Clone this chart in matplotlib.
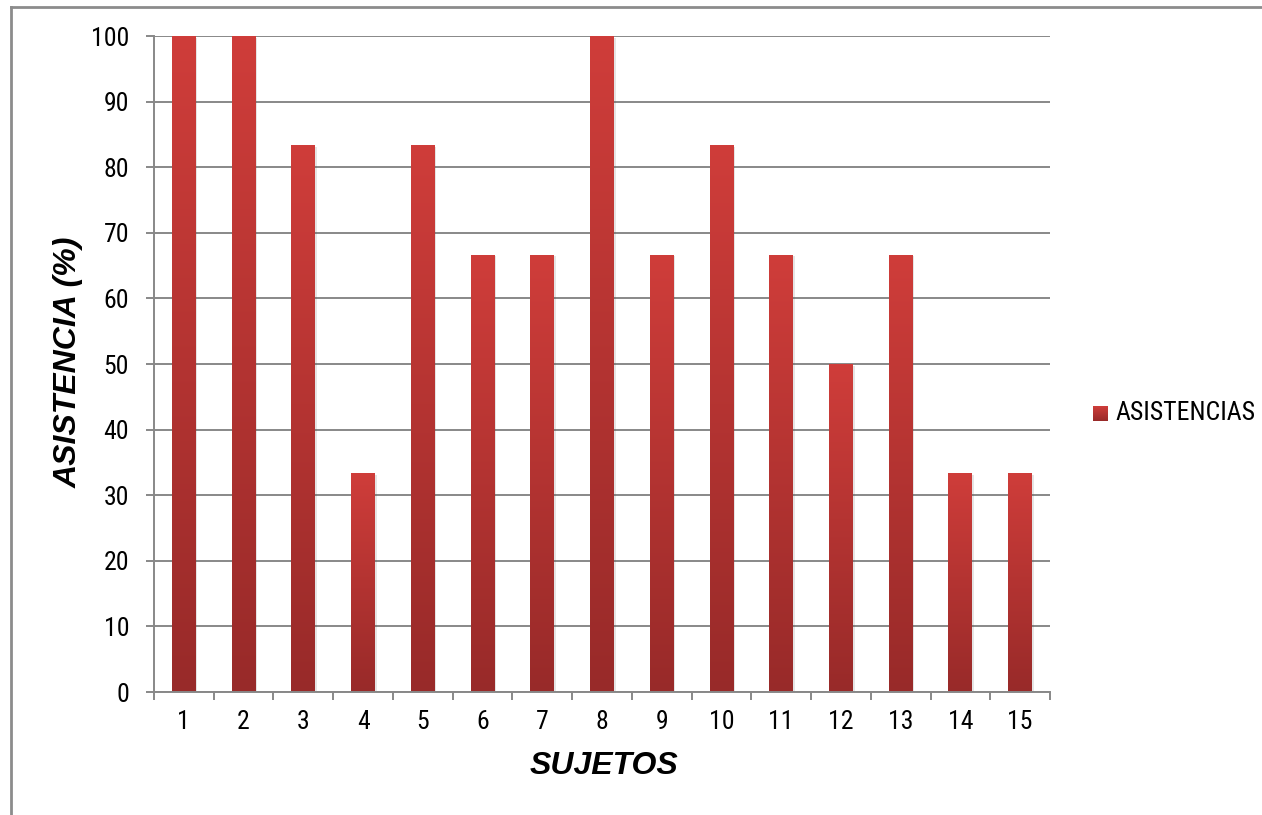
import matplotlib
matplotlib.use("Agg")
import matplotlib.pyplot as plt
import matplotlib.patheffects as pe
from matplotlib.colors import LinearSegmentedColormap
import numpy as np

# Data
sujetos = [str(i) for i in range(1, 16)]
asistencia = [100, 100, 83.33, 33.33, 83.33, 66.67, 66.67, 100,
              66.67, 83.33, 66.67, 50, 66.67, 33.33, 33.33]
y_ticks = [0, 10, 20, 30, 40, 50, 60, 70, 80, 90, 100]
serie = "ASISTENCIAS"

# narrow sans for ticks and legend, first installed one wins
narrow = ["Liberation Sans Narrow", "Arial Narrow", "Roboto Condensed",
          "Archivo Narrow", "Sofia Sans Semi Condensed", "Liberation Sans"]
title_font = ["Liberation Sans", "DejaVu Sans"]

top_col = "#CF3D3A"
bot_col = "#982A29"
grad = LinearSegmentedColormap.from_list("bar", [bot_col, top_col])
grid_col = "#888888"

W, H = 1262, 815
fig = plt.figure(figsize=(W / 100, H / 100), dpi=100)
ax = fig.add_axes([154 / W, 1 - 692 / H, (1050 - 154) / W, (692 - 36) / H])

x = np.arange(1, len(sujetos) + 1)
bars = ax.bar(x, asistencia, width=0.4, color=top_col, zorder=3,
              path_effects=[pe.SimplePatchShadow(offset=(1.2, -1.2), alpha=0.15,
                                                 shadow_rgbFace="#555555"),
                            pe.Normal()])

# vertical gradient inside each bar
g = np.linspace(0, 1, 256).reshape(-1, 1)
for b in bars:
    x0, y0 = b.get_x(), b.get_y()
    w, h = b.get_width(), b.get_height()
    im = ax.imshow(g, cmap=grad, origin="lower", aspect="auto",
                   extent=[x0, x0 + w, y0, y0 + h], zorder=4, interpolation="bilinear")
    im.set_clip_path(b)

ax.set_xlim(0.5, len(sujetos) + 0.5)
ax.set_ylim(0, 100)
ax.set_yticks(y_ticks)
ax.set_yticklabels([str(v) for v in y_ticks], fontsize=18.5, family=narrow)
ax.set_xticks(x)
ax.set_xticklabels(sujetos, fontsize=18.5, family=narrow)
ax.set_xticks(np.arange(0.5, len(sujetos) + 1, 1), minor=True)
ax.tick_params(axis="x", which="major", length=0, pad=13)
ax.tick_params(axis="x", which="minor", length=6, width=1.4, color=grid_col, direction="out")
ax.tick_params(axis="y", length=6, width=1.4, color=grid_col, direction="out", pad=12)

ax.yaxis.grid(True, color=grid_col, linewidth=1.4, zorder=0)
ax.set_axisbelow(True)
for s in ["top", "right"]:
    ax.spines[s].set_visible(False)
for s in ["left", "bottom"]:
    ax.spines[s].set_color(grid_col)
    ax.spines[s].set_linewidth(1.4)
    ax.spines[s].set_zorder(5)

ax.set_xlabel("SUJETOS", fontsize=23, fontweight="bold", fontstyle="italic", family=title_font)
ax.set_ylabel("ASISTENCIA (%)", fontsize=23, fontweight="bold", fontstyle="italic", family=title_font)
ax.xaxis.set_label_coords(0.502, -0.09)
ax.yaxis.set_label_coords(-0.079, 0.502)

# legend: gradient square + series name
lax = fig.add_axes([1093 / W, 1 - 421 / H, 15 / W, 15 / H])
lax.imshow(g, cmap=grad, origin="lower", aspect="auto", extent=[0, 1, 0, 1])
lax.set_axis_off()
fig.text(1115 / W, 1 - 413 / H, serie, fontsize=18.5, family=narrow, ha="left", va="center")

# outer chart frame
fig.add_artist(plt.Line2D([11 / W, 11 / W], [0, 1 - 7 / H],
                          transform=fig.transFigure, color="#8C8C8C", linewidth=2))
fig.add_artist(plt.Line2D([11 / W, 1], [1 - 7 / H, 1 - 7 / H],
                          transform=fig.transFigure, color="#8C8C8C", linewidth=2))

fig.savefig("out.png", dpi=100, facecolor="white")
